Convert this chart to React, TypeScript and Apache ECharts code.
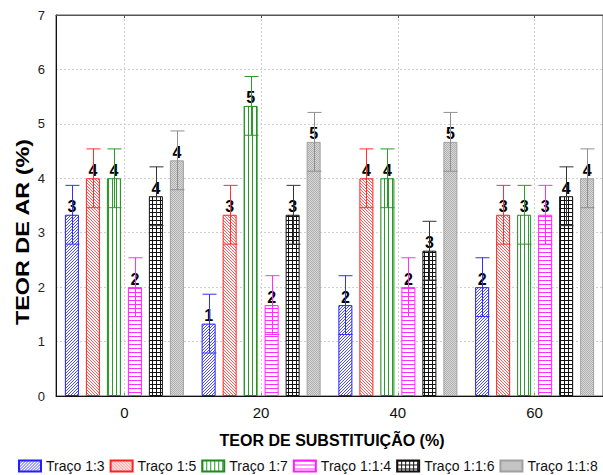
import React, { useEffect, useRef } from "react";
import * as echarts from "echarts";

const categories = ["0", "20", "40", "60"];
const seriesNames = ["Traço 1:3", "Traço 1:5", "Traço 1:7", "Traço 1:1:4", "Traço 1:1:6", "Traço 1:1:8"];
const traco13 = [3.33, 1.33, 1.67, 2.0];
const traco15 = [4.0, 3.33, 4.0, 3.33];
const traco17 = [4.0, 5.33, 4.0, 3.33];
const traco114 = [2.0, 1.67, 2.0, 3.33];
const traco116 = [3.67, 3.33, 2.67, 3.67];
const traco118 = [4.33, 4.67, 4.67, 4.0];
const err13 = [0.54, 0.54, 0.54, 0.54];
const err15 = [0.54, 0.54, 0.54, 0.54];
const err17 = [0.54, 0.54, 0.54, 0.54];
const err114 = [0.54, 0.54, 0.54, 0.54];
const err116 = [0.54, 0.54, 0.54, 0.54];
const err118 = [0.54, 0.54, 0.54, 0.54];
const yTicks = [0, 1, 2, 3, 4, 5, 6, 7];

const values = [traco13, traco15, traco17, traco114, traco116, traco118];
const errors = [err13, err15, err17, err114, err116, err118];
const colors = ["#2020ff", "#ff2020", "#1a8c1a", "#ff20ff", "#111111", "#a0a0a0"];
const errColors = ["#3030ff", "#ff3030", "#2a9a2a", "#ff30ff", "#333333", "#909090"];

const BAR_W = 14;
const BAR_GAP = 7;

function makePattern(kind: string): any {
  const c = document.createElement("canvas");
  let size = 4;
  if (kind === "blue" || kind === "red") size = 3;
  if (kind === "gray") size = 2;
  c.width = size;
  c.height = size;
  const ctx = c.getContext("2d")!;
  ctx.fillStyle = "#ffffff";
  ctx.fillRect(0, 0, size, size);
  for (let x = 0; x < size; x++) {
    for (let y = 0; y < size; y++) {
      let col: string | null = null;
      if (kind === "blue" && (x + y) % 3 === 0) col = "#4a4aff";
      if (kind === "red" && (x - y + 3) % 3 === 0) col = "#ff5a5a";
      if (kind === "green" && x === 0) col = "#2a9a2a";
      if (kind === "magenta" && y === 0) col = "#ff30ff";
      if (kind === "black" && (x === 0 || y === 0)) col = "#111111";
      if (kind === "gray") col = (x + y) % 2 === 0 ? "#b0b0b0" : "#d8d8d8";
      if (col) {
        ctx.fillStyle = col;
        ctx.fillRect(x, y, 1, 1);
      }
    }
  }
  return { image: c, repeat: "repeat", imageWidth: size, imageHeight: size };
}

export default function App() {
  const ref = useRef<HTMLDivElement>(null);
  useEffect(() => {
    document.body.style.margin = "0";
    const chart = echarts.init(ref.current!, undefined, { renderer: "svg" });
    const kinds = ["blue", "red", "green", "magenta", "black", "gray"];
    const patterns = kinds.map((k) => makePattern(k));
    const font = "Arial, 'Liberation Sans', sans-serif";

    const barSeries = seriesNames.map((name, k) => ({
      name,
      type: "bar",
      xAxisIndex: 0,
      barWidth: BAR_W,
      barGap: (BAR_GAP / BAR_W) * 100 + "%",
      data: values[k],
      itemStyle: { color: patterns[k], borderColor: colors[k], borderWidth: 1 },
      label: {
        show: true,
        position: "top",
        distance: 0,
        formatter: (p: any) => String(Math.round(p.value)),
        fontFamily: font,
        fontWeight: "bold",
        fontSize: 16,
        color: "#000",
      },
      z: 2,
    }));

    const errSeries = seriesNames.map((name, k) => ({
      name: name + " erro",
      type: "custom",
      xAxisIndex: 0,
      data: values[k].map((v, i) => [i, v, errors[k][i]]),
      z: 3,
      silent: true,
      renderItem: (params: any, api: any) => {
        const ci = api.value(0);
        const v = api.value(1);
        const e = api.value(2);
        const off = (k - (seriesNames.length - 1) / 2) * (BAR_W + BAR_GAP);
        const hi = api.coord([ci, v + e]);
        const lo = api.coord([ci, v - e]);
        const x = Math.round(hi[0] + off) + 0.5;
        const h = BAR_W / 2;
        const style = { stroke: errColors[k], lineWidth: 1, fill: null };
        return {
          type: "group",
          children: [
            { type: "line", shape: { x1: x, y1: hi[1], x2: x, y2: lo[1] }, style },
            { type: "line", shape: { x1: x - h, y1: hi[1], x2: x + h, y2: hi[1] }, style },
            { type: "line", shape: { x1: x - h, y1: lo[1], x2: x + h, y2: lo[1] }, style },
          ],
        };
      },
    }));

    chart.setOption({
      animation: false,
      backgroundColor: "#ffffff",
      textStyle: { fontFamily: font },
      grid: {
        left: 56,
        top: 15,
        right: -5,
        bottom: 79,
        show: true,
        borderColor: "#555555",
        borderWidth: 1,
        containLabel: false,
      },
      legend: {
        data: seriesNames,
        left: 18,
        top: 459,
        padding: 0,
        itemWidth: 22,
        itemHeight: 11,
        itemGap: 5,
        icon: "rect",
        textStyle: { fontFamily: font, fontSize: 14, color: "#111" },
      },
      xAxis: [
        {
          type: "category",
          data: categories,
          position: "bottom",
          axisLine: { show: true, lineStyle: { color: "#111", width: 1 } },
          axisTick: { show: true, inside: true, length: 3, alignWithLabel: true, lineStyle: { color: "#888" } },
          axisLabel: { fontFamily: font, fontSize: 15, color: "#111", margin: 9 },
          splitLine: { show: true, alignWithLabel: true, lineStyle: { color: "#d0d0d0", type: [2, 2] } },
        },
        {
          type: "category",
          data: categories,
          position: "top",
          axisLine: { show: true, lineStyle: { color: "#555", width: 1 } },
          axisTick: { show: true, inside: true, length: 3, alignWithLabel: true, lineStyle: { color: "#555" } },
          axisLabel: { show: false },
          splitLine: { show: false },
        },
      ],
      yAxis: {
        type: "value",
        min: yTicks[0],
        max: yTicks[yTicks.length - 1],
        interval: 1,
        axisLine: { show: true, lineStyle: { color: "#111", width: 1 } },
        axisTick: { show: false },
        axisLabel: { fontFamily: font, fontSize: 13, color: "#222", margin: 11 },
        splitLine: { show: true, lineStyle: { color: "#d0d0d0", type: [2, 2] } },
      },
      graphic: [
        {
          type: "text",
          x: 23,
          y: 232,
          rotation: Math.PI / 2,
          scaleX: 1.3,
          style: {
            text: "TEOR DE AR (%)",
            x: 0,
            y: 0,
            align: "center",
            verticalAlign: "middle",
            font: "bold 18px Arial, 'Liberation Sans', sans-serif",
            fill: "#000",
          },
        },
        {
          type: "text",
          x: 332,
          y: 440,
          style: {
            text: "TEOR DE SUBSTITUIÇÃO (%)",
            x: 0,
            y: 0,
            align: "center",
            verticalAlign: "middle",
            font: "bold 16px Arial, 'Liberation Sans', sans-serif",
            fill: "#000",
          },
        },
      ],
      series: [...barSeries, ...errSeries],
    });
    return () => chart.dispose();
  }, []);
  return (
    <div
      ref={ref}
      style={{ position: "fixed", left: 0, top: 0, width: 603, height: 475 }}
    />
  );
}
